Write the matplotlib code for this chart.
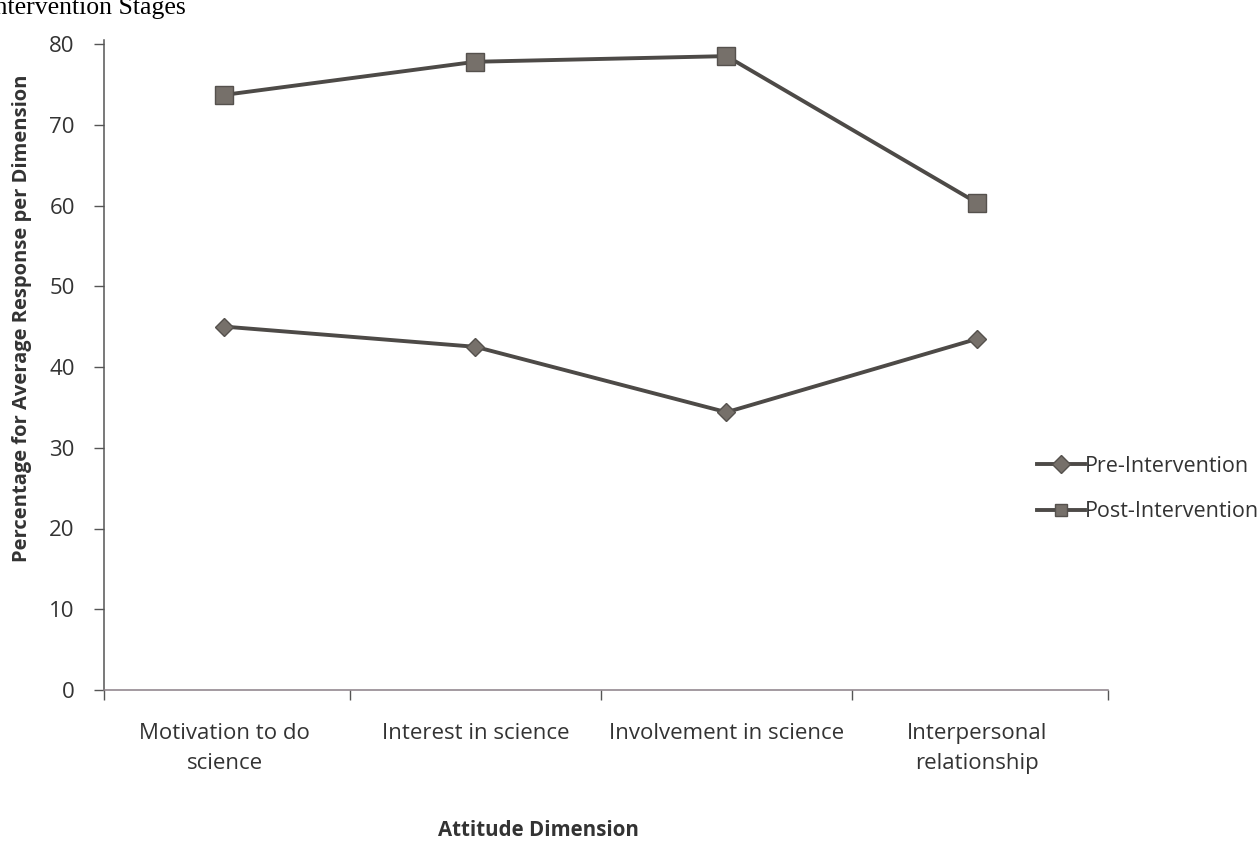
import matplotlib
matplotlib.use("Agg")
import matplotlib.pyplot as plt
from matplotlib.ticker import FixedLocator

categories = ["Motivation to do\nscience", "Interest in science", "Involvement in science", "Interpersonal\nrelationship"]
pre_values = [45.0, 42.5, 34.4, 43.5]
post_values = [73.7, 77.8, 78.5, 60.3]
y_ticks = [0, 10, 20, 30, 40, 50, 60, 70, 80]

W, H = 1259, 841
fig = plt.figure(figsize=(W / 100, H / 100), dpi=100)
left, right, bottom, top = 104, 1108, 690, 40
ax = fig.add_axes([left / W, 1 - bottom / H, (right - left) / W, (bottom - top) / H])

font = "Open Sans"
line_col = "#4d4a47"
marker_col = "#76706a"

x = list(range(len(categories)))
ax.plot(x, pre_values, color=line_col, lw=2.8, marker="D", ms=9,
        mfc=marker_col, mec="#55514d", mew=1, label="Pre-Intervention")
ax.plot(x, post_values, color=line_col, lw=2.8, marker="s", ms=13,
        mfc=marker_col, mec="#55514d", mew=1, label="Post-Intervention")

ax.set_xlim(-0.48, 3.52)
ax.set_ylim(0, 80 * (bottom - top) / (bottom - 44))
ax.set_yticks(y_ticks)
ax.set_yticklabels([str(v) for v in y_ticks], fontfamily=font, fontsize=16, color="#333333")
ax.set_xticks(x)
ax.set_xticklabels(categories, fontfamily=font, fontsize=16, color="#333333", linespacing=1.55)
ax.tick_params(axis="x", length=0, pad=24)
ax.xaxis.set_minor_locator(FixedLocator([-0.48, 0.5, 1.5, 2.5, 3.52]))
ax.tick_params(axis="x", which="minor", length=7, color="#555555", width=1)
ax.tick_params(axis="y", length=7, color="#555555", width=1, pad=14)

for s in ["top", "right"]:
    ax.spines[s].set_visible(False)
ax.spines["left"].set_color("#555555")
ax.spines["bottom"].set_color("#8a7f86")
ax.spines["left"].set_linewidth(1.1)
ax.spines["bottom"].set_linewidth(1.1)

fig.text(22 / W, 1 - 318 / H, "Percentage for Average Response per Dimension",
         rotation=90, ha="center", va="center", fontfamily=font, fontsize=14.5,
         fontweight="bold", color="#333333")
fig.text(538 / W, 1 - 830 / H, "Attitude Dimension", ha="center", va="center",
         fontfamily=font, fontsize=14.8, fontweight="bold", color="#333333")
fig.text(-14 / W, 1 - 8 / H, "Intervention Stages", ha="left", va="center",
         fontfamily="Liberation Serif", fontsize=18.5, color="black")

leg = fig.legend(loc="center left", bbox_to_anchor=(1018 / W, 1 - 489 / H),
                 frameon=False, prop={"family": font, "size": 15.5},
                 handlelength=2.2, handletextpad=0.0, labelspacing=1.15,
                 labelcolor="#333333")
for h in leg.legend_handles:
    h.set_markersize(9)

fig.savefig("out.png", dpi=100)
